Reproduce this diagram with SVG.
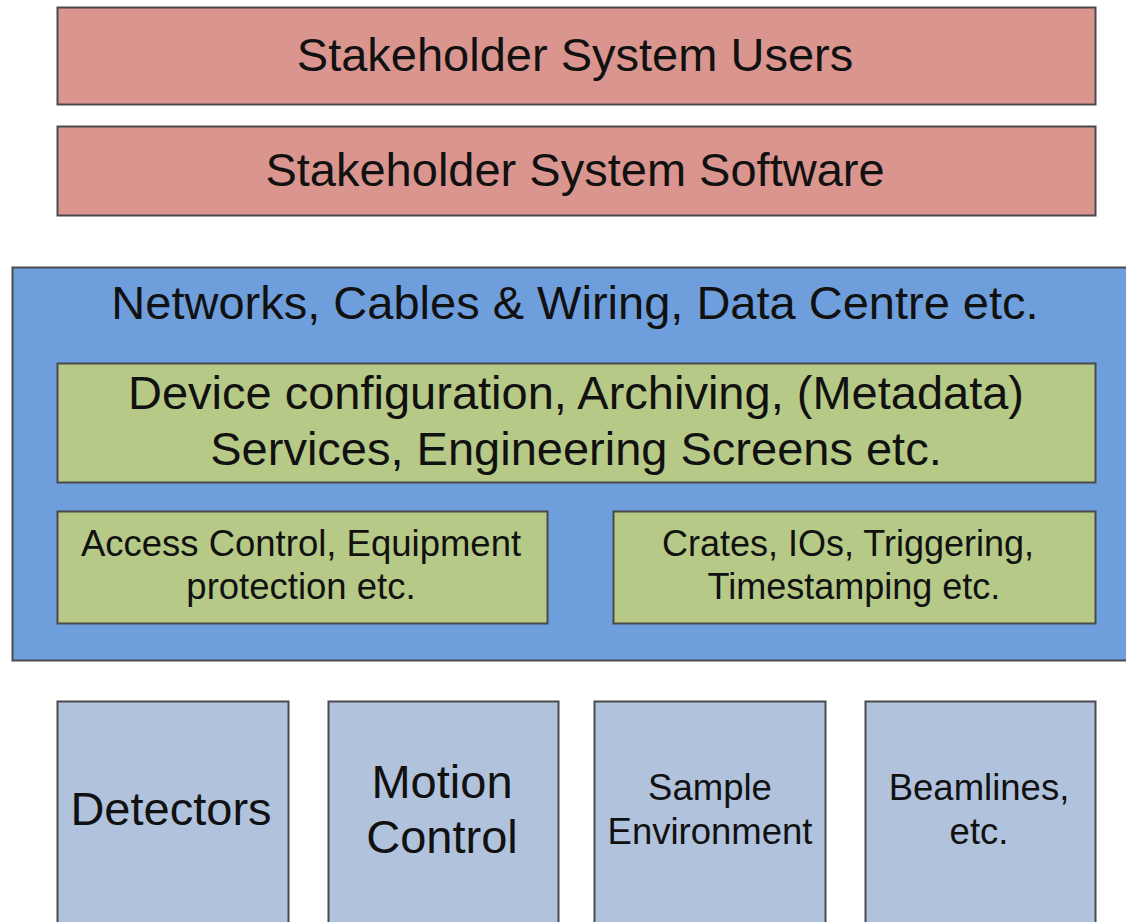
<svg xmlns="http://www.w3.org/2000/svg" width="1126" height="922" viewBox="0 0 1126 922">
<style>
.b{stroke:#4a4a4a;stroke-width:2}
.pink{fill:#da958f}
.blue{fill:#6e9edb}
.green{fill:#b6c987}
.grey{fill:#b0c2dc}
text{font-family:"Liberation Sans",Arial,sans-serif;fill:#111;text-anchor:middle}
.l{font-size:47px}
.m{font-size:36.5px}
</style>
<rect width="1126" height="922" fill="#fff"/>
<g id="users">
<rect class="b pink" x="57.5" y="7.5" width="1038" height="97"/>
<text class="l" x="575" y="71">Stakeholder System Users</text>
</g>
<g id="software">
<rect class="b pink" x="57.5" y="126.5" width="1038" height="89"/>
<text class="l" x="575" y="186">Stakeholder System Software</text>
</g>
<g id="networks">
<rect class="b blue" x="12.5" y="267.5" width="1120" height="393"/>
<text class="l" x="575" y="319">Networks, Cables &amp; Wiring, Data Centre etc.</text>
</g>
<g id="services">
<rect class="b green" x="57.5" y="363.5" width="1038" height="119"/>
<text class="l" x="576" y="409">Device configuration, Archiving, (Metadata)</text>
<text class="l" x="576" y="465">Services, Engineering Screens etc.</text>
</g>
<g id="access">
<rect class="b green" x="57.5" y="511.5" width="490" height="112"/>
<text class="m" x="301" y="556">Access Control, Equipment</text>
<text class="m" x="301" y="599">protection etc.</text>
</g>
<g id="crates">
<rect class="b green" x="613.5" y="511.5" width="482" height="112"/>
<text class="m" x="848" y="556" style="font-size:36px">Crates, IOs, Triggering,</text>
<text class="m" x="854" y="599" style="font-size:36px">Timestamping etc.</text>
</g>
<g id="detectors">
<rect class="b grey" x="57.5" y="701.5" width="231" height="240"/>
<text class="l" x="171" y="825">Detectors</text>
</g>
<g id="motion">
<rect class="b grey" x="328.5" y="701.5" width="230" height="240"/>
<text class="l" x="442" y="798">Motion</text>
<text class="l" x="442" y="853">Control</text>
</g>
<g id="sample">
<rect class="b grey" x="594.5" y="701.5" width="231" height="240"/>
<text class="m" x="710" y="800">Sample</text>
<text class="m" x="710" y="844">Environment</text>
</g>
<g id="beamlines">
<rect class="b grey" x="865.5" y="701.5" width="230" height="240"/>
<text class="m" x="979" y="800">Beamlines,</text>
<text class="m" x="979" y="844">etc.</text>
</g>
<g id="connectors"/>
</svg>
